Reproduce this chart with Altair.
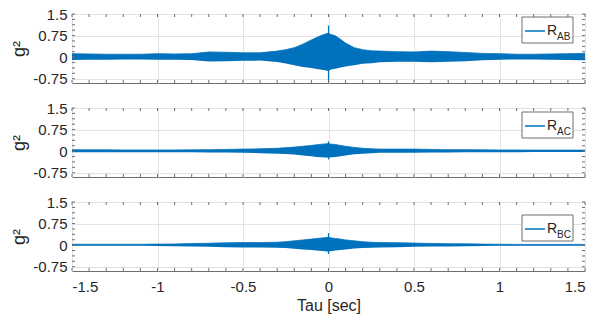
import altair as alt
import pandas as pd

# ---- data (envelope of the dense correlation traces) ----
tau = [-1.5, -1.4, -1.3, -1.2, -1.1, -1.0, -0.9, -0.8, -0.7, -0.6, -0.5, -0.4,
       -0.3, -0.25, -0.2, -0.15, -0.1, -0.07, -0.04, -0.02, -0.01, 0.0,
       0.01, 0.02, 0.04, 0.07, 0.1, 0.15, 0.2, 0.25, 0.3, 0.4, 0.5, 0.6,
       0.7, 0.8, 0.9, 1.0, 1.1, 1.2, 1.3, 1.4, 1.5]

ab_hi = [0.12, 0.11, 0.10, 0.10, 0.10, 0.12, 0.11, 0.12, 0.18, 0.17, 0.15, 0.15,
         0.21, 0.26, 0.33, 0.45, 0.60, 0.68, 0.76, 0.80, 0.82, 0.82,
         0.80, 0.78, 0.74, 0.62, 0.49, 0.33, 0.26, 0.22, 0.21, 0.19, 0.18, 0.21,
         0.19, 0.16, 0.13, 0.12, 0.10, 0.10, 0.11, 0.12, 0.13]
ab_lo = [-0.10, -0.09, -0.09, -0.08, -0.08, -0.09, -0.09, -0.10, -0.15, -0.14, -0.13, -0.12,
         -0.17, -0.22, -0.28, -0.34, -0.38, -0.41, -0.44, -0.46, -0.47, -0.48,
         -0.45, -0.42, -0.40, -0.36, -0.33, -0.28, -0.23, -0.21, -0.18, -0.16, -0.16, -0.18,
         -0.16, -0.14, -0.11, -0.09, -0.08, -0.08, -0.09, -0.10, -0.11]

ac_hi = [0.05, 0.045, 0.045, 0.04, 0.04, 0.04, 0.04, 0.045, 0.05, 0.06, 0.07, 0.08,
         0.10, 0.12, 0.14, 0.17, 0.20, 0.22, 0.24, 0.25, 0.26, 0.26,
         0.25, 0.24, 0.23, 0.20, 0.17, 0.13, 0.10, 0.08, 0.07, 0.07, 0.07, 0.06,
         0.05, 0.05, 0.045, 0.04, 0.04, 0.035, 0.035, 0.035, 0.035]
ac_lo = [-0.04, -0.04, -0.04, -0.035, -0.035, -0.035, -0.035, -0.04, -0.045, -0.05, -0.06, -0.07,
         -0.09, -0.10, -0.12, -0.15, -0.18, -0.20, -0.21, -0.22, -0.22, -0.22,
         -0.22, -0.21, -0.20, -0.18, -0.15, -0.11, -0.09, -0.07, -0.06, -0.06, -0.06, -0.05,
         -0.045, -0.04, -0.04, -0.035, -0.035, -0.03, -0.03, -0.03, -0.03]

bc_hi = [0.03, 0.03, 0.03, 0.03, 0.03, 0.035, 0.04, 0.055, 0.065, 0.08, 0.09, 0.09,
         0.10, 0.12, 0.15, 0.18, 0.21, 0.23, 0.25, 0.26, 0.27, 0.27,
         0.26, 0.25, 0.23, 0.21, 0.18, 0.15, 0.12, 0.10, 0.09, 0.085, 0.07, 0.06,
         0.05, 0.045, 0.035, 0.03, 0.025, 0.025, 0.025, 0.025, 0.025]
bc_lo = [-0.025, -0.025, -0.025, -0.025, -0.025, -0.03, -0.035, -0.045, -0.055, -0.07, -0.08, -0.08,
         -0.09, -0.10, -0.13, -0.15, -0.17, -0.19, -0.20, -0.21, -0.22, -0.22,
         -0.21, -0.20, -0.19, -0.17, -0.15, -0.12, -0.10, -0.09, -0.08, -0.075, -0.06, -0.05,
         -0.045, -0.04, -0.03, -0.025, -0.02, -0.02, -0.02, -0.02, -0.02]

names = ["AB", "AC", "BC"]
spike_tau = [0.0, 0.0, 0.0]
spike_hi = [1.1, 0.34, 0.42]
spike_lo = [-0.85, -0.29, -0.31]

x_tick_values = [-1.5, -1.0, -0.5, 0.0, 0.5, 1.0, 1.5]
y_tick_values = [-0.75, 0.0, 0.75, 1.5]

# ---- styling ----
W, H = 513, 69
BLUE = "#0072BD"
FONT = "Liberation Sans"
TXT = "#262626"
BOX = "#6e6e6e"

minor_x = pd.DataFrame({"tau": [round(-1.5 + 0.1 * i, 3) for i in range(31)]})
minor_y = pd.DataFrame({"hi": [round(-0.75 + 0.1875 * i, 4) for i in range(13)]})

xscale = alt.Scale(domain=[-1.5, 1.5], nice=False, zero=False)
yscale = alt.Scale(domain=[-0.9, 1.5], nice=False, zero=False)

his = [ab_hi, ac_hi, bc_hi]
los = [ab_lo, ac_lo, bc_lo]
legend_offsets = [0, 1, 10]


def panel(i, bottom):
    df = pd.DataFrame({"tau": tau, "hi": his[i], "lo": los[i]})
    if bottom:
        xaxis = alt.Axis(values=x_tick_values, labelExpr="'' + datum.value",
                         ticks=False, domain=False, grid=True, title="Tau [sec]",
                         labelPadding=8, titleY=39, titleBaseline="alphabetic",
                         titleFontSize=16)
    else:
        xaxis = alt.Axis(values=x_tick_values, labels=False, ticks=False,
                         domain=False, grid=True, title=None)
    yaxis = alt.Axis(values=y_tick_values, labelExpr="'' + datum.value",
                     ticks=False, domain=False, grid=True, title="g²",
                     titleX=-53, titleY=H / 2, titleAngle=270,
                     titleAlign="center", titleBaseline="middle",
                     titleFontSize=18, labelPadding=5)

    X = alt.X("tau:Q", scale=xscale, axis=xaxis)
    Y = alt.Y("hi:Q", scale=yscale, axis=yaxis)

    area = alt.Chart(df).mark_area(color=BLUE, opacity=1,
                                   line={"color": BLUE, "strokeWidth": 0.8}).encode(
        x=X, y=Y, y2="lo:Q")
    sp = pd.DataFrame({"tau": [spike_tau[i]], "hi": [spike_hi[i]], "lo": [spike_lo[i]]})
    spike = alt.Chart(sp).mark_rule(color=BLUE, strokeWidth=1.2).encode(
        x=X, y=Y, y2="lo:Q")

    tx_top = alt.Chart(minor_x).mark_rule(color=BOX, strokeWidth=1).encode(
        x=X, y=alt.value(0), y2=alt.value(3))
    tx_bot = alt.Chart(minor_x).mark_rule(color=BOX, strokeWidth=1).encode(
        x=X, y=alt.value(H), y2=alt.value(H - 3))
    ty_l = alt.Chart(minor_y).mark_rule(color=BOX, strokeWidth=1).encode(
        y=Y, x=alt.value(0), x2=alt.value(3))
    ty_r = alt.Chart(minor_y).mark_rule(color=BOX, strokeWidth=1).encode(
        y=Y, x=alt.value(W), x2=alt.value(W - 3))

    off = legend_offsets[i]
    leg = pd.DataFrame({"main": ["R"], "sub": [names[i]]})
    box = alt.Chart(leg).mark_rect(fill="white", stroke=BOX, strokeWidth=1).encode(
        x=alt.value(450), x2=alt.value(501), y=alt.value(3 + off), y2=alt.value(29 + off))
    sample = alt.Chart(leg).mark_rule(color=BLUE, strokeWidth=1.5).encode(
        x=alt.value(453), x2=alt.value(473), y=alt.value(17 + off))
    t_main = alt.Chart(leg).mark_text(align="left", baseline="alphabetic", fontSize=14,
                                      font=FONT, color=TXT).encode(
        text="main:N", x=alt.value(475), y=alt.value(21 + off))
    t_sub = alt.Chart(leg).mark_text(align="left", baseline="alphabetic", fontSize=10,
                                     font=FONT, color=TXT).encode(
        text="sub:N", x=alt.value(485), y=alt.value(26 + off))

    return alt.layer(area, spike, tx_top, tx_bot, ty_l, ty_r, box, sample, t_main, t_sub).properties(
        width=W, height=H)


chart = alt.vconcat(panel(0, False), panel(1, False), panel(2, True),
                    spacing=25, bounds="flush").properties(
    padding={"left": 9, "top": 6, "right": 0, "bottom": 4}
).configure_view(stroke=BOX, strokeWidth=1).configure_axis(
    gridColor="#e2e2e2", gridWidth=1, gridOpacity=1,
    labelFont=FONT, titleFont=FONT, labelFontSize=15, labelColor=TXT,
    titleColor=TXT, titleFontWeight="normal"
)

chart.save("out.html", embed_options={"renderer": "svg", "actions": False})
